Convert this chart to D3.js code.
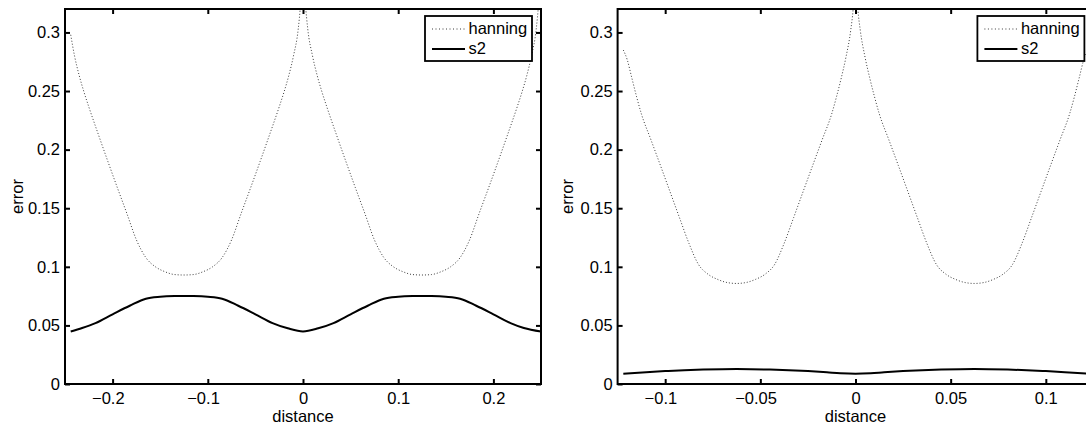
<!DOCTYPE html>
<html>
<head>
<meta charset="utf-8">
<script src="https://cdn.jsdelivr.net/npm/d3@7"></script>
<style>
  html, body { margin: 0; padding: 0; background: #fff; }
  svg { display: block; }
  text { font-family: "Liberation Sans", Arial, Helvetica, sans-serif; fill: #000; }
</style>
</head>
<body>
<svg id="chart" width="1086" height="428"></svg>
<script>
// ---------- data ----------
const seriesNames = ["hanning", "s2"];

// left panel
const distanceHanningL = [-0.244,-0.24,-0.235,-0.23,-0.225,-0.215,-0.205,-0.195,-0.185,-0.175,-0.165,-0.155,-0.145,-0.135,-0.125,-0.115,-0.105,-0.095,-0.085,-0.075,-0.065,-0.055,-0.045,-0.035,-0.025,-0.02,-0.015,-0.01,-0.005,-0.0025,0,0.0025,0.005,0.01,0.015,0.02,0.025,0.035,0.045,0.055,0.065,0.075,0.085,0.095,0.105,0.115,0.125,0.135,0.145,0.155,0.165,0.175,0.185,0.195,0.205,0.215,0.225,0.23,0.235,0.24,0.245,0.2475,0.25];
const hanningL = [0.298,0.280,0.263,0.249,0.2365,0.213,0.190,0.1675,0.1455,0.123,0.1078,0.100,0.0958,0.0934,0.093,
  0.0934,0.0958,0.100,0.1078,0.123,0.1455,0.1675,0.190,0.213,0.2365,
  0.249,0.263,0.280,0.303,0.325,0.36,
  0.325,0.303,0.280,0.263,0.249,0.2365,
  0.213,0.190,0.1675,0.1455,0.123,0.1078,0.100,0.0958,0.0934,0.093,
  0.0934,0.0958,0.100,0.1078,0.123,0.1455,0.1675,0.190,0.213,0.2365,
  0.249,0.263,0.280,0.303,0.325,0.36];
const distanceS2L = [-0.244,-0.232,-0.218,-0.2,-0.182,-0.165,-0.15,-0.135,-0.125,-0.115,-0.1,-0.085,-0.068,-0.05,-0.032,-0.016,0,0.016,0.032,0.05,0.068,0.085,0.1,0.115,0.125,0.135,0.15,0.165,0.182,0.2,0.218,0.232,0.25];
const s2L = [0.0448,0.0478,0.052,0.0595,0.0668,0.0728,0.0744,0.0750,0.0751,0.0750,0.0744,0.0728,0.0668,0.0595,0.052,0.0475,0.0448,0.0475,0.052,0.0595,0.0668,0.0728,0.0744,0.0750,0.0751,0.0750,0.0744,0.0728,0.0668,0.0595,0.052,0.0478,0.0448];

// right panel
const distanceHanningR = [-0.122,-0.12,-0.1175,-0.115,-0.1125,-0.1075,-0.1025,-0.0975,-0.0925,-0.0875,-0.0825,-0.0775,-0.0725,-0.0675,-0.0625,-0.0575,-0.0525,-0.0475,-0.0425,-0.0375,-0.0325,-0.0275,-0.0225,-0.0175,-0.0125,-0.01,-0.0075,-0.005,-0.0025,-0.00125,0,0.00125,0.0025,0.005,0.0075,0.01,0.0125,0.0175,0.0225,0.0275,0.0325,0.0375,0.0425,0.0475,0.0525,0.0575,0.0625,0.0675,0.0725,0.0775,0.0825,0.0875,0.0925,0.0975,0.1025,0.1075,0.1125,0.115,0.1175,0.12,0.122];
const hanningR = [0.285,0.277,0.261,0.245,0.2305,0.2085,0.1865,0.1643,0.1420,0.1200,0.1020,0.0937,0.0893,0.0866,0.0858,
  0.0866,0.0893,0.0937,0.1020,0.1200,0.1420,0.1643,0.1865,0.2085,0.2305,
  0.245,0.261,0.279,0.302,0.32,0.355,
  0.32,0.302,0.279,0.261,0.245,0.2305,
  0.2085,0.1865,0.1643,0.1420,0.1200,0.1020,0.0937,0.0893,0.0866,0.0858,
  0.0866,0.0893,0.0937,0.1020,0.1200,0.1420,0.1643,0.1865,0.2085,0.2305,
  0.245,0.261,0.277,0.285];
const distanceS2R = [-0.122,-0.11,-0.1,-0.09,-0.08,-0.07,-0.0625,-0.055,-0.045,-0.035,-0.025,-0.015,-0.008,0,0.008,0.015,0.025,0.035,0.045,0.055,0.0625,0.07,0.08,0.09,0.1,0.11,0.125];
const s2R = [0.0088,0.0101,0.0110,0.0118,0.0123,0.0126,0.0127,0.0126,0.0123,0.0118,0.0110,0.0100,0.0092,0.0088,0.0092,0.0100,0.0110,0.0118,0.0123,0.0126,0.0127,0.0126,0.0123,0.0118,0.0110,0.0101,0.0086];

// axes
const xDomainL = [-0.25, 0.25];
const xDomainR = [-0.125, 0.125];
const yDomain = [0, 0.32];
const xTicksL = [-0.2, -0.1, 0, 0.1, 0.2];
const xTickLabelsL = ["\u22120.2", "\u22120.1", "0", "0.1", "0.2"];
const xTicksR = [-0.1, -0.05, 0, 0.05, 0.1];
const xTickLabelsR = ["\u22120.1", "\u22120.05", "0", "0.05", "0.1"];
const yTicks = [0, 0.05, 0.1, 0.15, 0.2, 0.25, 0.3];
const yTickLabels = ["0", "0.05", "0.1", "0.15", "0.2", "0.25", "0.3"];
const xTitle = "distance";
const yTitle = "error";

// ---------- drawing ----------
const svg = d3.select("#chart");
svg.append("rect").attr("width", 1086).attr("height", 428).attr("fill", "#fff");

const FS = 16.5;
const yTop = 9, yBottom = 384;

function panel(id, xRange, xDomain, xTicks, xLabels, hx, hy, sx, sy, titleX) {
  const x = d3.scaleLinear().domain(xDomain).range(xRange);
  const y = d3.scaleLinear().domain(yDomain).range([yBottom, yTop]);
  const g = svg.append("g");

  g.append("clipPath").attr("id", "clip" + id)
    .append("rect").attr("x", xRange[0]).attr("y", yTop)
    .attr("width", xRange[1] - xRange[0]).attr("height", yBottom - yTop);

  const plot = g.append("g").attr("clip-path", `url(#clip${id})`);
  const line = d3.line().x(d => x(d[0])).y(d => y(d[1])).curve(d3.curveMonotoneX);

  plot.append("path")
    .datum(d3.zip(hx, hy))
    .attr("d", line)
    .attr("fill", "none").attr("stroke", "#3a3a3a").attr("stroke-width", 1)
    .attr("stroke-dasharray", "1,2");
  plot.append("path")
    .datum(d3.zip(sx, sy))
    .attr("d", line)
    .attr("fill", "none").attr("stroke", "#000").attr("stroke-width", 2)
    .attr("stroke-linejoin", "round");

  const fmtX = d => xLabels[xTicks.indexOf(d)];
  const fmtY = d => yTickLabels[yTicks.indexOf(d)];

  const axB = g.append("g").attr("transform", `translate(0,${yBottom})`)
    .call(d3.axisBottom(x).tickValues(xTicks).tickFormat(fmtX).tickSize(-5).tickSizeOuter(0).tickPadding(8));
  const axT = g.append("g").attr("transform", `translate(0,${yTop})`)
    .call(d3.axisTop(x).tickValues(xTicks).tickFormat("").tickSize(-5).tickSizeOuter(0));
  const axL = g.append("g").attr("transform", `translate(${xRange[0]},0)`)
    .call(d3.axisLeft(y).tickValues(yTicks).tickFormat(fmtY).tickSize(-5).tickSizeOuter(0).tickPadding(5));
  const axR = g.append("g").attr("transform", `translate(${xRange[1]},0)`)
    .call(d3.axisRight(y).tickValues(yTicks).tickFormat("").tickSize(-5).tickSizeOuter(0));

  [axB, axT, axL, axR].forEach(a => {
    a.select(".domain").remove();
    a.selectAll(".tick line").attr("stroke", "#000").attr("stroke-width", 2);
    a.selectAll("text").attr("font-size", FS).attr("font-family", '"Liberation Sans", Arial, sans-serif').attr("fill", "#000");
  });
  axB.selectAll(".tick text").attr("dx", d => d < 0 ? "-0.29em" : 0);

  g.append("rect")
    .attr("x", xRange[0]).attr("y", yTop)
    .attr("width", xRange[1] - xRange[0]).attr("height", yBottom - yTop)
    .attr("fill", "none").attr("stroke", "#000").attr("stroke-width", 2);

  // titles
  g.append("text").attr("x", (xRange[0] + xRange[1]) / 2).attr("y", 421.5)
    .attr("text-anchor", "middle").attr("font-size", FS).text(xTitle);
  g.append("text").attr("transform", `translate(${titleX},${(yTop + yBottom) / 2}) rotate(-90)`)
    .attr("text-anchor", "middle").attr("font-size", FS).text(yTitle);

  // legend
  const lw = 107, lh = 45;
  const lx = xRange[1] - 9 - lw, ly = 16;
  const lg = g.append("g");
  lg.append("rect").attr("x", lx).attr("y", ly).attr("width", lw).attr("height", lh)
    .attr("fill", "#fff").attr("stroke", "#000").attr("stroke-width", 1.8);
  const rows = [13, 33];
  seriesNames.forEach((name, i) => {
    const ry = ly + rows[i];
    lg.append("line").attr("x1", lx + 7).attr("x2", lx + 40).attr("y1", ry).attr("y2", ry)
      .attr("stroke", i === 0 ? "#3a3a3a" : "#000")
      .attr("stroke-width", i === 0 ? 1 : 2)
      .attr("stroke-dasharray", i === 0 ? "1,2.5" : null);
    lg.append("text").attr("x", lx + 43.5).attr("y", ry + 4.5)
      .attr("font-size", FS).text(name);
  });
}

panel("L", [65, 541], xDomainL, xTicksL, xTickLabelsL, distanceHanningL, hanningL, distanceS2L, s2L, 22.5);
panel("R", [617.6, 1093.4], xDomainR, xTicksR, xTickLabelsR, distanceHanningR, hanningR, distanceS2R, s2R, 572.7);
</script>
</body>
</html>
